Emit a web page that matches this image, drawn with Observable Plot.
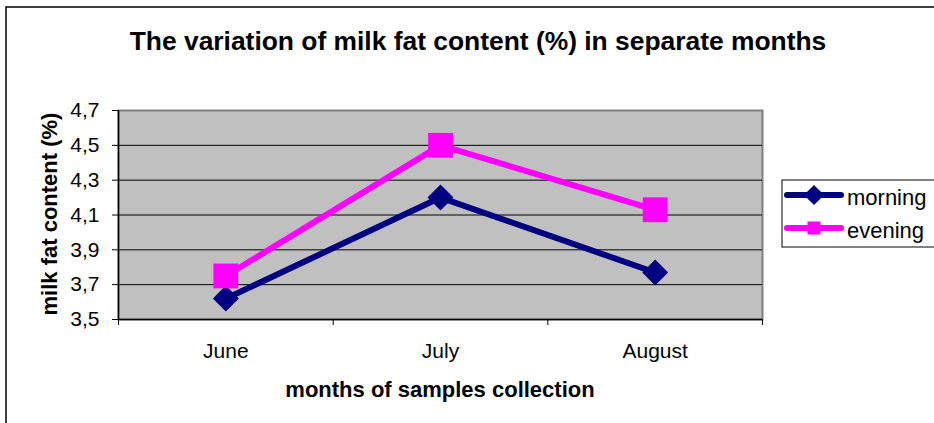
<!DOCTYPE html>
<html><head><meta charset="utf-8">
<script src="https://cdn.jsdelivr.net/npm/d3@7"></script>
<script src="https://cdn.jsdelivr.net/npm/@observablehq/plot@0.6"></script>
<style>
body{margin:0;background:#fff;}
#wrap{position:relative;width:934px;height:423px;overflow:hidden;background:#fff;}
#wrap svg{position:absolute;left:0;top:0;}
</style></head>
<body><div id="wrap"></div>
<script>
const months = ["June", "July", "August"];
const morning = [3.62, 4.20, 3.77];
const evening = [3.75, 4.50, 4.13];
const yTicks = [3.5, 3.7, 3.9, 4.1, 4.3, 4.5, 4.7];
const seriesNames = ["morning", "evening"];
const seriesColors = ["#000080", "#FF00FF"];
const seriesSymbols = ["diamond2", "square"];
const title = "The variation of milk fat content (%) in separate months";
const xTitle = "months of samples collection";
const yTitle = "milk fat content (%)";

const FONT = "'Liberation Sans', Arial, sans-serif";
const data = [];
[morning, evening].forEach((vals, s) => vals.forEach((v, i) => data.push({series: seriesNames[s], month: months[i], xi: i + 0.5, value: v})));
const morningData = data.filter(d => d.series === "morning");
const eveningData = data.filter(d => d.series === "evening");

const chart = Plot.plot({
  width: 934, height: 423,
  marginLeft: 118, marginRight: 172, marginTop: 110, marginBottom: 104,
  style: {fontFamily: FONT, fontSize: "21px", color: "#000", background: "transparent", overflow: "visible"},
  x: {type: "linear", domain: [0, months.length]},
  y: {domain: [yTicks[0], yTicks[yTicks.length - 1]]},
  color: {domain: seriesNames, range: seriesColors},
  symbol: {domain: seriesNames, range: seriesSymbols},
  marks: [
    Plot.frame({fill: "#C0C0C0", stroke: "#808080", strokeWidth: 2}),
    Plot.gridY(yTicks.slice(1, -1), {stroke: "#000", strokeOpacity: 1, strokeWidth: 1}),
    Plot.ruleY([yTicks[0]], {stroke: "#000", strokeWidth: 1.5}),
    Plot.ruleX([0], {stroke: "#000", strokeWidth: 1.5}),
    Plot.axisY({ticks: yTicks, tickSize: 6, tickPadding: 13, tickFormat: d => d.toFixed(1).replace(".", ","), label: null, fontSize: 21}),
    Plot.axisX({ticks: d3.range(months.length + 1), tickSize: 6, tickFormat: () => "", label: null}),
    Plot.axisX({ticks: months.map((_, i) => i + 0.5), tickSize: 0, tickPadding: 24, tickFormat: d => months[Math.floor(d)], label: null, fontSize: 21}),
    Plot.line(morningData, {x: "xi", y: "value", stroke: "series", strokeWidth: 6, strokeLinejoin: "round", strokeLinecap: "round"}),
    Plot.dot(morningData, {x: "xi", y: "value", fill: "series", symbol: "series", r: 11.7, stroke: "none"}),
    Plot.line(eveningData, {x: "xi", y: "value", stroke: "series", strokeWidth: 6, strokeLinejoin: "round", strokeLinecap: "round"}),
    Plot.dot(eveningData, {x: "xi", y: "value", fill: "series", symbol: "series", r: 14, stroke: "none"})
  ]
});

const wrap = document.getElementById("wrap");
wrap.appendChild(chart);

// overlay: frame, titles, legend
const ov = d3.select(wrap).append("svg").attr("width", 934).attr("height", 423)
  .style("font-family", FONT).style("pointer-events", "none");
ov.append("rect").attr("x", 6).attr("y", 7).attr("width", 1000).attr("height", 1000)
  .attr("fill", "none").attr("stroke", "#000").attr("stroke-width", 1.5);
ov.append("text").attr("x", 478).attr("y", 50).attr("text-anchor", "middle")
  .attr("font-weight", "bold").attr("font-size", 26.4).text(title);
ov.append("text").attr("x", 440).attr("y", 397).attr("text-anchor", "middle")
  .attr("font-weight", "bold").attr("font-size", 22).text(xTitle);
ov.append("text").attr("transform", "translate(57,214) rotate(-90)").attr("text-anchor", "middle")
  .attr("font-weight", "bold").attr("font-size", 22).text(yTitle);

const lg = ov.append("g");
lg.append("rect").attr("x", 782).attr("y", 180).attr("width", 170).attr("height", 67)
  .attr("fill", "#fff").attr("stroke", "#000").attr("stroke-width", 1);
const sym = [d3.symbolDiamond2, d3.symbolSquare];
const symSize = [260, 170];
seriesNames.forEach((name, i) => {
  const cy = 195 + i * 33;
  lg.append("line").attr("x1", 787).attr("x2", 841).attr("y1", cy).attr("y2", cy)
    .attr("stroke", seriesColors[i]).attr("stroke-width", 6).attr("stroke-linecap", "round");
  lg.append("path").attr("transform", `translate(814,${cy})`)
    .attr("d", d3.symbol(sym[i], symSize[i])()).attr("fill", seriesColors[i]);
  lg.append("text").attr("x", 847).attr("y", cy + 10).attr("font-size", 22).text(name);
});
</script></body></html>
